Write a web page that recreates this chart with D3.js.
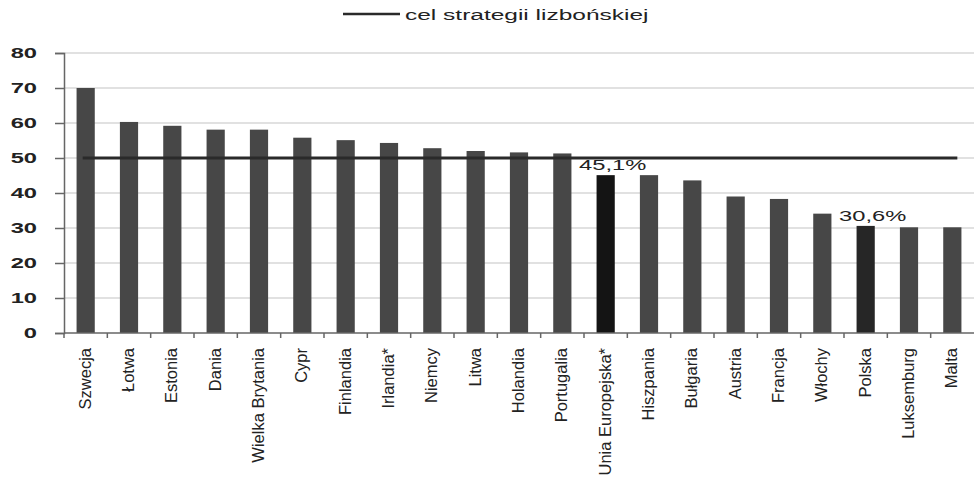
<!DOCTYPE html>
<html>
<head>
<meta charset="utf-8">
<script src="https://cdn.jsdelivr.net/npm/d3@7"></script>
<style>
  body { margin: 0; background: #fff; }
  svg { display: block; font-family: "Liberation Sans", Arial, sans-serif; }
</style>
</head>
<body>
<div id="chart"></div>
<script>
const countries = ["Szwecja", "Łotwa", "Estonia", "Dania", "Wielka Brytania", "Cypr", "Finlandia",
  "Irlandia*", "Niemcy", "Litwa", "Holandia", "Portugalia", "Unia Europejska*", "Hiszpania",
  "Bułgaria", "Austria", "Francja", "Włochy", "Polska", "Luksemburg", "Malta"];
const values = [70, 60.3, 59.2, 58.1, 58.1, 55.8, 55.1, 54.3, 52.8, 52, 51.6, 51.3, 45.1, 45.1,
  43.6, 39, 38.3, 34.1, 30.6, 30.2, 30.2];
const target = 50;
const highlighted = { "Unia Europejska*": "45,1%", "Polska": "30,6%" };
const yTicks = [0, 10, 20, 30, 40, 50, 60, 70, 80];
const legendLabel = "cel strategii lizbońskiej";

const W = 976, H = 477;
const margin = { top: 53, right: 2, bottom: 144, left: 64 };
const width = W - margin.left - margin.right;
const height = H - margin.top - margin.bottom;
const stretch = 1.58; // the source picture is stretched sideways

const svg = d3.select("#chart").append("svg")
  .attr("width", W).attr("height", H);

const g = svg.append("g")
  .attr("transform", `translate(${margin.left},${margin.top})`);

const x = d3.scaleBand().domain(countries).range([0, width]).paddingInner(0.58).paddingOuter(0.29);
const y = d3.scaleLinear().domain([0, 80]).range([height, 0]);
const cx = d => x(d) + x.bandwidth() / 2;

// gridlines
g.selectAll(".grid")
  .data(yTicks.filter(d => d > 0))
  .enter().append("line")
  .attr("x1", 0).attr("x2", width)
  .attr("y1", d => y(d)).attr("y2", d => y(d))
  .attr("stroke", "#c4c4c4").attr("stroke-width", 1.2);

// bars
g.selectAll(".bar")
  .data(countries)
  .enter().append("rect")
  .attr("x", d => x(d))
  .attr("width", x.bandwidth())
  .attr("y", (d, i) => y(values[i]))
  .attr("height", (d, i) => height - y(values[i]))
  .attr("fill", d => d === "Unia Europejska*" ? "#141414" : d === "Polska" ? "#262626" : "#474747");

// target line
g.append("line")
  .attr("x1", cx(countries[0]) - 3).attr("x2", cx(countries[countries.length - 1]) + 5)
  .attr("y1", y(target)).attr("y2", y(target))
  .attr("stroke", "#2a2a2a").attr("stroke-width", 3);

// axes
const yAxis = g.append("g")
  .call(d3.axisLeft(y).tickValues(yTicks).tickSize(9));
yAxis.select(".domain").attr("stroke", "#666").attr("stroke-width", 1.5);
yAxis.selectAll(".tick line").attr("stroke", "#666").attr("stroke-width", 1.5);
yAxis.selectAll(".tick text")
  .attr("x", -27 / stretch)
  .attr("transform", `scale(${stretch},1)`)
  .attr("fill", "#222")
  .style("font-size", "15px")
  .style("font-weight", "bold");

const xAxisG = g.append("g").attr("transform", `translate(0,${height})`);
xAxisG.append("line")
  .attr("x1", 0).attr("x2", width)
  .attr("stroke", "#666").attr("stroke-width", 1.5);
xAxisG.selectAll(".xtick")
  .data(countries)
  .enter().append("line")
  .attr("x1", d => x(d) - x.step() * x.paddingInner() / 2)
  .attr("x2", d => x(d) - x.step() * x.paddingInner() / 2)
  .attr("y1", 0).attr("y2", 5)
  .attr("stroke", "#666").attr("stroke-width", 1.5);

xAxisG.selectAll(".xlabel")
  .data(countries)
  .enter().append("text")
  .attr("transform", d => `translate(${cx(d) + 5},15) rotate(-90)`)
  .attr("text-anchor", "end")
  .attr("fill", "#222")
  .style("font-size", "16.5px")
  .text(d => d);

// value labels
Object.entries(highlighted).forEach(([c, label]) => {
  const i = countries.indexOf(c);
  g.append("text")
    .attr("transform", `translate(${cx(c) + 7},${y(values[i]) - 5}) scale(${stretch},1)`)
    .attr("text-anchor", "middle")
    .attr("fill", "#222")
    .style("font-size", "15px")
    .text(label);
});

// legend
const legend = svg.append("g").attr("transform", "translate(343,14)");
legend.append("line")
  .attr("x1", 0).attr("x2", 57)
  .attr("stroke", "#2a2a2a").attr("stroke-width", 2.5);
legend.append("text")
  .attr("transform", `translate(62,5.5) scale(${stretch},1)`)
  .attr("fill", "#222")
  .style("font-size", "15.5px")
  .text(legendLabel);
</script>
</body>
</html>
